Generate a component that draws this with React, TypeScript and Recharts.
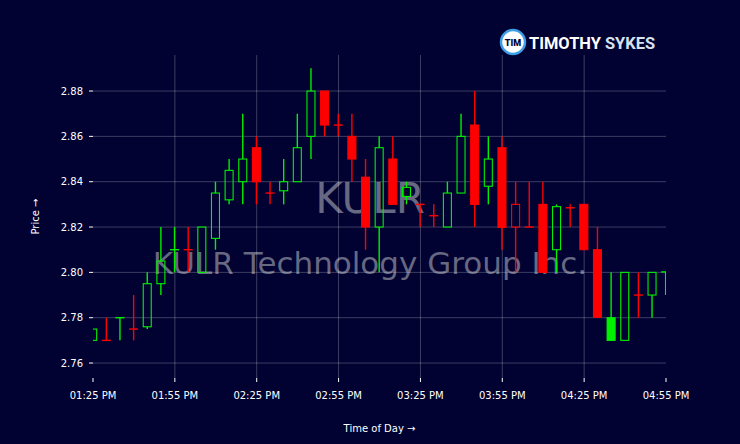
import { ComposedChart, Bar, XAxis, YAxis, CartesianGrid } from 'recharts';

// 5-minute candles, KULR
const times = [
  '01:25 PM', '01:30 PM', '01:35 PM', '01:40 PM', '01:45 PM', '01:50 PM', '01:55 PM',
  '02:00 PM', '02:05 PM', '02:10 PM', '02:15 PM', '02:20 PM', '02:25 PM', '02:30 PM',
  '02:35 PM', '02:40 PM', '02:45 PM', '02:50 PM', '02:55 PM', '03:00 PM', '03:05 PM',
  '03:10 PM', '03:15 PM', '03:20 PM', '03:25 PM', '03:30 PM', '03:35 PM', '03:40 PM',
  '03:45 PM', '03:50 PM', '03:55 PM', '04:00 PM', '04:05 PM', '04:10 PM', '04:15 PM',
  '04:20 PM', '04:25 PM', '04:30 PM', '04:35 PM', '04:40 PM', '04:45 PM', '04:50 PM',
  '04:55 PM',
];

const opens = [
  2.77, 2.77, 2.78, 2.775, 2.776, 2.795, 2.81, 2.81, 2.8, 2.815, 2.832, 2.84, 2.855, 2.835,
  2.836, 2.84, 2.86, 2.88, 2.865, 2.86, 2.842, 2.82, 2.85, 2.8335, 2.83, 2.825, 2.82, 2.835,
  2.865, 2.838, 2.855, 2.83, 2.82, 2.83, 2.81, 2.8285, 2.83, 2.81, 2.77, 2.77, 2.79, 2.79, 2.8,
];
const highs = [
  2.775, 2.78, 2.78, 2.79, 2.8, 2.82, 2.82, 2.82, 2.82, 2.84, 2.85, 2.87, 2.86, 2.84,
  2.85, 2.87, 2.89, 2.88, 2.87, 2.87, 2.85, 2.86, 2.86, 2.84, 2.83, 2.83, 2.84, 2.87,
  2.88, 2.86, 2.86, 2.84, 2.84, 2.84, 2.83, 2.83, 2.83, 2.82, 2.8, 2.8, 2.8, 2.8, 2.8002,
];
const lows = [
  2.77, 2.77, 2.77, 2.77, 2.775, 2.79, 2.8, 2.8, 2.8, 2.81, 2.83, 2.83, 2.83, 2.83,
  2.83, 2.84, 2.85, 2.86, 2.86, 2.84, 2.81, 2.8, 2.83, 2.83, 2.82, 2.82, 2.82, 2.835,
  2.82, 2.83, 2.81, 2.8, 2.82, 2.8, 2.8, 2.82, 2.81, 2.78, 2.77, 2.77, 2.78, 2.78, 2.79,
];
const closes = [
  2.775, 2.77, 2.78, 2.775, 2.795, 2.805, 2.81, 2.81, 2.82, 2.835, 2.845, 2.85, 2.84, 2.835,
  2.84, 2.855, 2.88, 2.865, 2.865, 2.85, 2.82, 2.855, 2.83, 2.8375, 2.83, 2.825, 2.835, 2.86,
  2.83, 2.85, 2.8198, 2.82, 2.82, 2.8, 2.829, 2.8285, 2.81, 2.7802, 2.78, 2.8, 2.79, 2.8, 2.8002,
];

const priceTicks = [2.76, 2.78, 2.8, 2.82, 2.84, 2.86, 2.88];
const timeTicks = [0, 6, 12, 18, 24, 30, 36, 42];
const gridTimes = [6, 12, 18, 24, 30, 36];

const GREEN = '#00f000';
const RED = '#ff0000';
const BG = '#010232';

const data = times.map((t, i) => ({
  idx: i,
  time: t,
  range: [lows[i], highs[i]],
  open: opens[i],
  high: highs[i],
  low: lows[i],
  close: closes[i],
  prev: i > 0 ? closes[i - 1] : null,
}));

function Candle(props: any) {
  const { x, y, width, height, payload } = props;
  const { open, high, low, close, prev } = payload;
  const top = Math.min(y, y + height);
  const h = Math.abs(height);
  const span = high - low;
  const py = (v: number) => top + (span === 0 ? 0 : ((high - v) / span) * h);
  const cx = x + width / 2;
  const up = close !== open ? close > open : prev !== null && close > prev;
  const filled = prev !== null && close < prev;
  const color = up ? GREEN : RED;
  const bTop = py(Math.max(open, close));
  const bBot = py(Math.min(open, close));
  const yHi = py(high);
  const yLo = py(low);

  if (bBot - bTop < 0.8) {
    return (
      <g>
        <line x1={cx} x2={cx} y1={yHi} y2={yLo} stroke={color} strokeWidth={1.4} />
        <line x1={x} x2={x + width} y1={bTop} y2={bTop} stroke={color} strokeWidth={1.4} />
      </g>
    );
  }
  return (
    <g>
      {yHi < bTop && <line x1={cx} x2={cx} y1={yHi} y2={bTop} stroke={color} strokeWidth={1.4} />}
      {yLo > bBot && <line x1={cx} x2={cx} y1={bBot} y2={yLo} stroke={color} strokeWidth={1.4} />}
      <rect
        x={x + 0.5}
        y={bTop}
        width={width - 1}
        height={bBot - bTop}
        fill={filled ? color : 'none'}
        stroke={color}
        strokeWidth={1.1}
      />
    </g>
  );
}

export default function App() {
  return (
    <div
      style={{
        position: 'absolute',
        left: 0,
        top: 0,
        width: 740,
        height: 444,
        background: BG,
        fontFamily: 'DejaVu Sans',
        overflow: 'hidden',
      }}
    >
      <svg width={740} height={444} style={{ position: 'absolute', left: 0, top: 0 }}>
        <text x={370} y={213} textAnchor="middle" fontSize={42} fill="#8a8a9c" fillOpacity={0.75}>
          KULR
        </text>
        <text x={370} y={274} textAnchor="middle" fontSize={31} fill="#8a8a9c" fillOpacity={0.75}>
          KULR Technology Group Inc.
        </text>
        <circle cx={513} cy={42} r={12} fill="#ffffff" stroke="#3b9ee6" strokeWidth={2.5} />
        <text x={513} y={45.5} textAnchor="middle" fontSize={9} fontWeight={900} fill={BG} fontFamily="Roboto">
          TIM
        </text>
        <text x={529} y={48.5} fontSize={17} fontWeight={700} fontFamily="Roboto" textLength={126} lengthAdjust="spacingAndGlyphs">
          <tspan fill="#ffffff">TIMOTHY</tspan>
          <tspan fill="#d6e2f2"> SYKES</tspan>
        </text>
      </svg>
      <div style={{ position: 'absolute', left: 0, top: 0 }}>
        <ComposedChart width={740} height={444} data={data} margin={{ top: 55, right: 74, bottom: 0, left: 0 }}>
          <CartesianGrid
            stroke="#ffffff"
            strokeOpacity={0.3}
            strokeWidth={0.8}
            verticalValues={gridTimes}
            horizontalValues={priceTicks}
          />
          <XAxis
            dataKey="idx"
            type="number"
            domain={[0, 42]}
            ticks={timeTicks}
            allowDataOverflow
            height={66}
            tickFormatter={(v: number) => times[v]}
            tick={{ fill: '#ffffff', fontSize: 10 }}
            tickLine={{ stroke: '#ffffff' }}
            tickSize={4}
            tickMargin={10}
            axisLine={false}
            label={{ value: 'Time of Day →', position: 'insideBottom', offset: 12, fill: '#ffffff', fontSize: 10 }}
          />
          <YAxis
            type="number"
            domain={[2.7534, 2.8959]}
            ticks={priceTicks}
            allowDataOverflow
            width={93}
            tickFormatter={(v: number) => v.toFixed(2)}
            tick={{ fill: '#ffffff', fontSize: 10 }}
            tickLine={{ stroke: '#ffffff' }}
            tickSize={4}
            tickMargin={6}
            axisLine={false}
            label={{
              value: 'Price →',
              angle: -90,
              position: 'insideLeft',
              offset: 35,
              fill: '#ffffff',
              fontSize: 10,
              style: { textAnchor: 'middle' },
            }}
          />
          <Bar dataKey="range" barSize={9} shape={Candle} isAnimationActive={false} />
        </ComposedChart>
      </div>
    </div>
  );
}
